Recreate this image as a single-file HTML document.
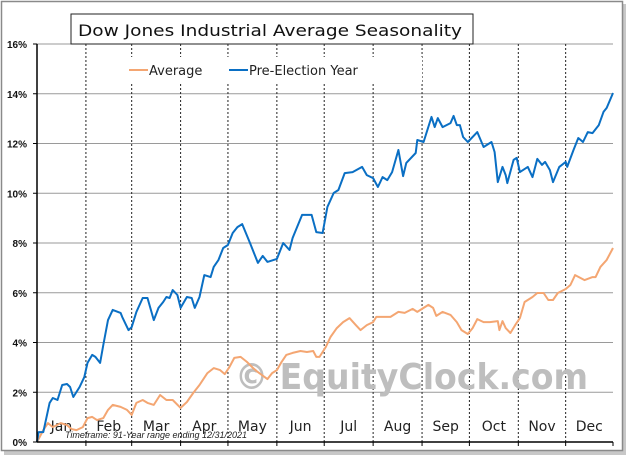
<!DOCTYPE html>
<html><head><meta charset="utf-8"><style>
html,body{margin:0;padding:0;background:#fff;}
svg{display:block;font-family:"DejaVu Sans","Liberation Sans",sans-serif;}
</style></head><body>
<svg id="chart" width="628" height="457" viewBox="0 0 628 457">
<rect x="4" y="4" width="622" height="451" fill="#c8c8c8"/>
<rect x="1.5" y="1.5" width="621" height="449" fill="#fff" stroke="#8a8a8a" stroke-width="1.5"/>
<g id="grid"></g>
<text x="235" y="389" font-size="36" font-weight="bold" fill="#bebebe" textLength="353" lengthAdjust="spacingAndGlyphs">© EquityClock.com</text>
<g id="months"></g>
<g id="series"></g>
<g id="axes"></g>
<rect x="71" y="14" width="402" height="30" fill="#fff" stroke="#222" stroke-width="1"/>
<text x="78" y="36" font-size="16" fill="#111" textLength="384" lengthAdjust="spacingAndGlyphs">Dow Jones Industrial  Average  Seasonality</text>
<rect x="122" y="57" width="300" height="26" fill="#fff"/>
<g><line x1="129" y1="70" x2="148" y2="70" stroke="#f4a672" stroke-width="2"/><text x="149" y="75" font-size="13" fill="#222">Average</text></g>
<g><line x1="229" y1="70" x2="248" y2="70" stroke="#0a6fc4" stroke-width="2"/><text x="249" y="75" font-size="13" fill="#222">Pre-Election Year</text></g>
<text x="65" y="438" font-size="9" font-style="italic" fill="#222" font-family="Liberation Sans, sans-serif">Timeframe: 91-Year range ending 12/31/2021</text>
</svg>
<script>
const yTicks=[0,2,4,6,8,10,12,14,16];
const tickLabels=["0%","2%","4%","6%","8%","10%","12%","14%","16%"];
const months=["Jan","Feb","Mar","Apr","May","Jun","Jul","Aug","Sep","Oct","Nov","Dec"];
const monthStartDays=[0,31,60,91,121,152,182,213,244,274,305,335,365];
const avgDays=[0,4,7,10,15,19,22,25,29,32,35,38,42,45,48,53,57,60,63,67,70,74,78,82,86,91,95,99,103,108,112,116,119,122,125,129,133,137,140,146,149,152,155,158,162,167,171,175,177,179,183,186,190,194,198,202,205,209,213,215,219,224,229,233,238,241,245,248,251,253,257,262,266,269,273,276,279,283,287,292,293,295,297,300,303,306,309,314,317,321,324,327,330,335,338,341,347,352,354,357,361,365];
const avgValues=[0,0.48,0.76,0.60,0.76,0.68,0.52,0.48,0.60,0.96,1.01,0.88,0.96,1.29,1.49,1.41,1.29,1.09,1.57,1.69,1.57,1.49,1.89,1.69,1.69,1.37,1.61,1.97,2.29,2.77,2.97,2.89,2.73,3.02,3.38,3.42,3.22,2.97,2.81,2.53,2.77,2.89,3.22,3.50,3.58,3.66,3.62,3.66,3.42,3.42,3.82,4.22,4.58,4.82,4.98,4.70,4.50,4.70,4.82,5.03,5.03,5.03,5.23,5.19,5.35,5.23,5.39,5.51,5.39,5.07,5.23,5.11,4.82,4.50,4.34,4.58,4.94,4.82,4.82,4.86,4.50,4.86,4.58,4.38,4.70,4.98,5.63,5.83,5.99,5.99,5.71,5.71,5.99,6.15,6.31,6.71,6.51,6.63,6.63,7.04,7.32,7.80];
const preDays=[0,1,4,8,10,13,16,19,21,23,27,30,32,35,37,40,42,45,48,53,54,58,60,63,67,70,74,77,80,82,84,86,89,91,95,98,100,103,106,110,112,115,118,121,124,127,130,135,140,143,146,152,156,160,162,168,174,177,181,184,188,191,195,200,206,209,213,216,219,222,225,229,232,234,240,241,245,250,252,254,257,262,264,266,268,270,273,279,283,288,290,292,295,297,298,302,304,306,311,314,317,320,322,325,327,331,335,336,340,343,346,349,352,356,359,361,365];
const preValues=[0,0.40,0.40,1.57,1.77,1.69,2.29,2.33,2.21,1.81,2.21,2.61,3.18,3.50,3.42,3.18,3.90,4.90,5.31,5.19,5.03,4.50,4.62,5.23,5.79,5.79,4.90,5.39,5.63,5.83,5.79,6.11,5.91,5.39,5.83,5.79,5.39,5.83,6.71,6.63,7.04,7.32,7.80,7.92,8.40,8.64,8.76,8.00,7.20,7.48,7.24,7.36,8.00,7.72,8.20,9.13,9.13,8.44,8.40,9.45,10.01,10.13,10.81,10.85,11.06,10.73,10.61,10.25,10.65,10.53,10.85,11.74,10.69,11.22,11.62,12.14,12.06,13.07,12.66,13.02,12.66,12.82,13.11,12.74,12.74,12.26,12.06,12.46,11.86,12.06,11.66,10.45,11.06,10.73,10.41,11.34,11.42,10.85,11.06,10.65,11.38,11.14,11.26,10.93,10.45,11.06,11.26,11.06,11.74,12.22,12.06,12.46,12.42,12.74,13.27,13.43,14.03];

const X0=37,X1=613,Y0=442,Y1=44;
function xs(d){return X0+d/365*(X1-X0);}
function ys(v){return Y0-v/16*(Y0-Y1);}
const NS="http://www.w3.org/2000/svg";
function mk(tag,attrs,parent){const e=document.createElementNS(NS,tag);for(const k in attrs)e.setAttribute(k,attrs[k]);parent.appendChild(e);return e;}
const grid=document.getElementById('grid'),axes=document.getElementById('axes'),mg=document.getElementById('months'),sg=document.getElementById('series');
yTicks.forEach((t,i)=>{
  if(t>0){const g=mk('line',{x1:X0,x2:X1,y1:ys(t),y2:ys(t),stroke:'#9a9a9a','stroke-width':1},grid);
  
  }
  const tk=mk('line',{x1:X0-4,x2:X0,y1:ys(t),y2:ys(t),stroke:'#000','stroke-width':1},axes);
  
  
  const lb=mk('text',{x:27,y:ys(t)+4,'font-size':10,'font-weight':'bold','text-anchor':'end',fill:'#111','font-family':'Liberation Sans, sans-serif'},axes);
  lb.textContent=tickLabels[i];
  
  
});
monthStartDays.forEach((d,i)=>{
  if(i>0&&i<12){const l=mk('line',{x1:xs(d),x2:xs(d),y1:Y1,y2:Y0,stroke:'#222','stroke-width':1,'stroke-dasharray':'2,2'},grid);
  
  }
  if(i>0){const t=mk('line',{x1:xs(d),x2:xs(d),y1:Y0,y2:Y0+4,stroke:'#000'},axes);
  
  }
  if(i<12){const m=mk('text',{x:(xs(d)+xs(monthStartDays[i+1]))/2,y:431,'font-size':14,'text-anchor':'middle',fill:'#222'},mg);
  m.textContent=months[i];
  
  }
});
const ya=mk('line',{x1:X0,x2:X0,y1:Y1,y2:Y0,stroke:'#000','stroke-width':1.5},axes);


const xa=mk('line',{x1:X0,x2:X1,y1:Y0,y2:Y0,stroke:'#000','stroke-width':1.5},axes);


function line(days,vals,color,name){
  const p=mk('polyline',{points:days.map((d,i)=>xs(d).toFixed(1)+','+ys(vals[i]).toFixed(1)).join(' '),fill:'none',stroke:color,'stroke-width':2,'stroke-linejoin':'round'},sg);
  
  
}
line(avgDays,avgValues,'#f4a672','average-line');
line(preDays,preValues,'#0a6fc4','pre-election-line');
</script>
</body></html>
